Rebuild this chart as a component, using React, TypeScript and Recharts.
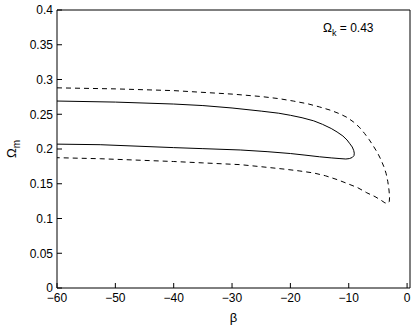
import { LineChart, Line, XAxis, YAxis, Label } from 'recharts';

// 1-sigma contour (solid), traced upper edge -> tip -> lower edge
const solidBeta = [-60, -50, -40, -35, -30, -25, -22, -20, -18, -16, -14.5, -13, -12, -11, -10.3, -9.8, -9.4, -9.15, -9.05, -9.1, -9.4, -9.9, -10.5, -11.5, -13, -15, -17.5, -20, -24, -28.6, -35, -40, -52.6, -60];
const solidOmega = [0.269, 0.2675, 0.2647, 0.2625, 0.259, 0.2545, 0.2515, 0.2485, 0.245, 0.2405, 0.2355, 0.2295, 0.2245, 0.2187, 0.213, 0.2075, 0.2029, 0.198, 0.194, 0.1905, 0.1878, 0.1862, 0.1856, 0.1862, 0.1872, 0.1888, 0.1912, 0.1935, 0.1962, 0.1986, 0.2005, 0.202, 0.2062, 0.207];

// 2-sigma contour (dashed)
const dashedBeta = [-60, -50, -40, -30, -25, -22, -19.5, -17, -15, -13.2, -11.5, -10.3, -9.2, -8.2, -7.3, -6.5, -5.8, -5.1, -4.5, -4.0, -3.6, -3.3, -3.1, -3.0, -3.05, -3.3, -3.8, -4.5, -5.5, -6.9, -8.5, -10.3, -12, -14, -16, -18.5, -21, -25, -28.6, -35, -40, -52.6, -60];
const dashedOmega = [0.288, 0.2865, 0.284, 0.279, 0.2755, 0.2725, 0.269, 0.265, 0.2605, 0.256, 0.2505, 0.2455, 0.239, 0.2315, 0.2225, 0.2135, 0.2045, 0.195, 0.185, 0.175, 0.165, 0.153, 0.141, 0.131, 0.1245, 0.1215, 0.1225, 0.1265, 0.1315, 0.137, 0.1445, 0.1505, 0.156, 0.1615, 0.1655, 0.1685, 0.171, 0.1745, 0.1775, 0.18, 0.182, 0.186, 0.1875];

const xTicks = [-60, -50, -40, -30, -20, -10, 0];
const yTicks = [0, 0.05, 0.1, 0.15, 0.2, 0.25, 0.3, 0.35, 0.4];

const solid = solidBeta.map((b, i) => ({ beta: b, om: solidOmega[i] }));
const dashed = dashedBeta.map((b, i) => ({ beta: b, om: dashedOmega[i] }));

const font = 'Liberation Sans, Arial, sans-serif';
const fmtX = (v: number) => String(v).replace('-', '\u2212');
const fmtY = (v: number) => String(Number(v.toFixed(2)));

export default function App() {
  return (
    <div style={{ position: 'absolute', left: 0, top: 0, background: '#fff' }}>
      <LineChart width={414} height={327} margin={{ top: 9, right: 3, bottom: 0, left: 0 }}>
        <XAxis
          xAxisId="b"
          dataKey="beta"
          type="number"
          domain={[-60, 0.5]}
          ticks={xTicks}
          allowDataOverflow
          height={39}
          tickSize={-5}
          tickMargin={10}
          tickFormatter={fmtX}
          stroke="#000"
          tick={{ fill: '#000', fontSize: 12, fontFamily: font }}
        >
          <Label value="β" position="insideBottom" offset={5} style={{ fill: '#000', fontSize: 13, fontFamily: font }} />
        </XAxis>
        <XAxis
          xAxisId="t"
          orientation="top"
          dataKey="beta"
          type="number"
          domain={[-60, 0.5]}
          ticks={xTicks}
          allowDataOverflow
          height={1}
          tickSize={-5}
          tick={false}
          stroke="#000"
        />
        <YAxis
          yAxisId="l"
          type="number"
          domain={[0, 0.4]}
          ticks={yTicks}
          width={57}
          tickSize={-5}
          tickMargin={9}
          tickFormatter={fmtY}
          stroke="#000"
          tick={{ fill: '#000', fontSize: 12, fontFamily: font }}
        >
          <Label
            content={({ viewBox }: any) => {
              const cy = viewBox.y + viewBox.height / 2;
              return (
                <text x={0} y={0} transform={`translate(16, ${cy}) rotate(-90)`} textAnchor="middle" fontSize={13} fontFamily={font} fill="#000">
                  Ω<tspan fontSize={10} dy={4}>m</tspan>
                </text>
              );
            }}
          />
        </YAxis>
        <YAxis
          yAxisId="r"
          orientation="right"
          type="number"
          domain={[0, 0.4]}
          ticks={yTicks}
          width={1}
          tickSize={-5}
          tick={false}
          stroke="#000"
        />
        <Line
          xAxisId="b"
          yAxisId="l"
          data={dashed}
          dataKey="om"
          type="linear"
          stroke="#000"
          strokeWidth={1}
          strokeDasharray="5 4"
          dot={false}
          isAnimationActive={false}
        />
        <Line
          xAxisId="b"
          yAxisId="l"
          data={solid}
          dataKey="om"
          type="linear"
          stroke="#000"
          strokeWidth={1}
          dot={false}
          isAnimationActive={false}
        />
        <text x={323} y={32} fontSize={12} fontFamily={font} fill="#000">
          Ω<tspan fontSize={9} dy={4}>k</tspan>
          <tspan dy={-4}> = 0.43</tspan>
        </text>
      </LineChart>
    </div>
  );
}
